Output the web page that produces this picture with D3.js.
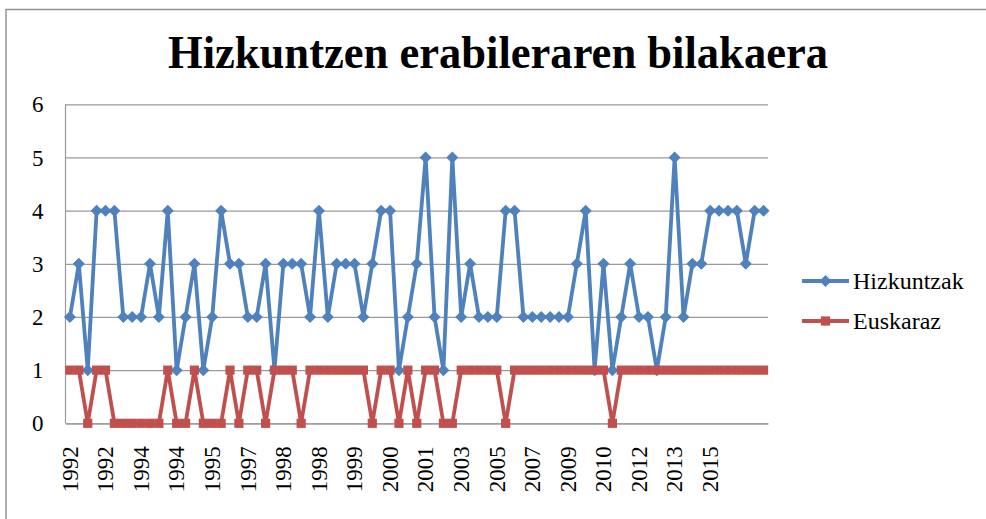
<!DOCTYPE html>
<html>
<head>
<meta charset="utf-8">
<script src="https://cdn.jsdelivr.net/npm/d3@7"></script>
<style>
  html, body { margin: 0; padding: 0; background: #fff; }
  svg { display: block; }
  svg text { font-family: "Liberation Serif", "DejaVu Serif", serif; }
</style>
</head>
<body>
<svg id="chart" width="986" height="519"></svg>
<script>
// ---- data ----
const titleText = "Hizkuntzen erabileraren bilakaera";
const seriesNames = ["Hizkuntzak", "Euskaraz"];
const hizkuntzak = [2,3,1,4,4,4,2,2,2,3,2,4,1,2,3,1,2,4,3,3,2,2,3,1,3,3,3,2,4,2,
                    3,3,3,2,3,4,4,1,2,3,5,2,1,5,2,3,2,2,2,4,4,2,2,2,2,2,2,3,4,1,
                    3,1,2,3,2,2,1,2,5,2,3,3,4,4,4,4,3,4,4];
const euskaraz   = [1,1,0,1,1,0,0,0,0,0,0,1,0,0,1,0,0,0,1,0,1,1,0,1,1,1,0,1,1,1,
                    1,1,1,1,0,1,1,0,1,0,1,1,0,0,1,1,1,1,1,0,1,1,1,1,1,1,1,1,1,1,
                    1,0,1,1,1,1,1,1,1,1,1,1,1,1,1,1,1,1,1];
const tickLabels = ["1992","1992","1994","1994","1995","1997","1998","1998","1999","2000",
                    "2001","2003","2005","2007","2009","2010","2012","2013","2015"];
const tickStep = 4;
const yTicks = [0,1,2,3,4,5,6];
const colors = ["#4F81BD", "#C0504D"];

// ---- layout ----
const svg = d3.select("#chart");
const plot = {left: 65.5, right: 768, top: 104.3, bottom: 423.3};
const serif = "'Liberation Serif', 'DejaVu Serif', serif";

// outer frame
svg.append("rect")
  .attr("x", 6).attr("y", 9.5).attr("width", 1100).attr("height", 700)
  .attr("fill", "#fff").attr("stroke", "#8c8c8c").attr("stroke-width", 1.4);

// title
svg.append("text")
  .attr("x", 168).attr("y", 68)
  .style("font-family", serif).attr("font-weight", "bold").attr("font-size", 47)
  .attr("textLength", 660).attr("lengthAdjust", "spacingAndGlyphs")
  .attr("fill", "#000")
  .text(titleText);

const n = hizkuntzak.length;
const x = d3.scaleBand().domain(d3.range(n)).range([plot.left, plot.right]).paddingInner(0).paddingOuter(0);
const cx = i => x(i) + x.bandwidth() / 2;
const y = d3.scaleLinear().domain([0, 6]).range([plot.bottom, plot.top]);

// gridlines + y labels
const yAxis = d3.axisLeft(y).tickValues(yTicks).tickSize(-(plot.right - plot.left)).tickFormat(d3.format("d"));
const gy = svg.append("g").attr("transform", `translate(${plot.left},0)`).call(yAxis);
gy.attr("font-family", null);
gy.select(".domain").remove();
gy.selectAll(".tick line").attr("stroke", "#9a9a9a").attr("stroke-width", 1.2);
gy.selectAll(".tick text")
  .attr("x", -22).attr("dy", "0.33em")
  .style("font-family", serif).style("font-size", "23px").attr("fill", "#000");

// left axis line
svg.append("line")
  .attr("x1", plot.left).attr("x2", plot.left)
  .attr("y1", plot.top).attr("y2", plot.bottom)
  .attr("stroke", "#9a9a9a").attr("stroke-width", 1.2);

// x axis
const tickIdx = tickLabels.map((_, k) => k * tickStep);
const xAxis = d3.axisBottom(x).tickValues(tickIdx).tickSize(0)
  .tickFormat(d => tickLabels[d / tickStep]);
const gx = svg.append("g").attr("transform", `translate(0,${plot.bottom})`).call(xAxis);
gx.attr("font-family", null);
gx.select(".domain").attr("stroke", "#9a9a9a").attr("stroke-width", 1.2);
gx.selectAll(".tick text")
  .attr("transform", "rotate(-90)")
  .attr("text-anchor", "end")
  .attr("x", -23).attr("y", 0).attr("dy", "0.34em")
  .style("font-family", serif).style("font-size", "23px").attr("fill", "#000");

// markers
const diamond = (s) => `M0,${-s}L${s},0L0,${s}L${-s},0Z`;
const square = (s) => `M${-s},${-s}H${s}V${s}H${-s}Z`;
const markers = [diamond(6), square(4.6)];

[hizkuntzak, euskaraz].forEach((data, si) => {
  const line = d3.line().x((d, i) => cx(i)).y(d => y(d));
  svg.append("path")
    .datum(data)
    .attr("d", line)
    .attr("fill", "none")
    .attr("stroke", colors[si])
    .attr("stroke-width", 3.8)
    .attr("stroke-linejoin", "round");
  svg.append("g").selectAll("path")
    .data(data)
    .join("path")
    .attr("transform", (d, i) => `translate(${cx(i)},${y(d)})`)
    .attr("d", markers[si])
    .attr("fill", colors[si]);
});

// legend
const legendY = [281, 321];
seriesNames.forEach((name, si) => {
  const g = svg.append("g");
  g.append("line")
    .attr("x1", 802).attr("x2", 849)
    .attr("y1", legendY[si]).attr("y2", legendY[si])
    .attr("stroke", colors[si]).attr("stroke-width", 3.8);
  g.append("path")
    .attr("transform", `translate(825.5,${legendY[si]})`)
    .attr("d", markers[si])
    .attr("fill", colors[si]);
  g.append("text")
    .attr("x", 853).attr("y", legendY[si] + 8)
    .style("font-family", serif).style("font-size", "24px").attr("fill", "#000")
    .text(name);
});
</script>
</body>
</html>
